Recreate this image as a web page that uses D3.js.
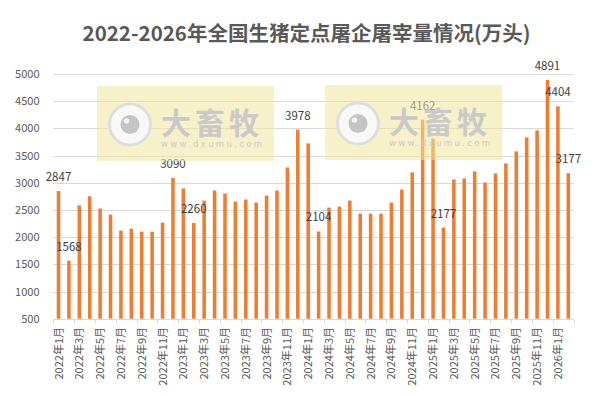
<!DOCTYPE html>
<html>
<head>
<meta charset="utf-8">
<script src="https://cdn.jsdelivr.net/npm/d3@7"></script>
<style>
  html, body { margin: 0; padding: 0; background: #fff; }
  svg { display: block; }
</style>
</head>
<body>
<div id="chart"></div>
<script>
// 数据
var years = [2022, 2023, 2024, 2025, 2026];
var months = [];
years.forEach(function(y) {
    var n = y === 2026 ? 2 : 12;
    for (var m = 1; m <= n; m++) months.push(y + "年" + m + "月");
});
var values = [
    2847, 1568, 2586, 2752, 2525, 2414, 2119, 2156, 2100, 2100, 2266, 3090,
    2894, 2260, 2672, 2857, 2801, 2654, 2691, 2635, 2765, 2857, 3281, 3978,
    3724, 2104, 2543, 2562, 2672, 2432, 2432, 2432, 2635, 2875, 3189, 4162,
    3811, 2177, 3060, 3078, 3208, 3005, 3171, 3355, 3577, 3835, 3964, 4891,
    4404, 3177
];
var labelled = ["2022年1月", "2022年2月", "2022年12月", "2023年2月", "2023年12月",
    "2024年2月", "2024年12月", "2025年2月", "2025年12月", "2026年1月", "2026年2月"];
var yTicks = [500, 1000, 1500, 2000, 2500, 3000, 3500, 4000, 4500, 5000];
var title = "2022-2026年全国生猪定点屠企屠宰量情况(万头)";

var width = 607, height = 396;
var fontCJK = "'Noto Sans CJK SC', 'Noto Sans', sans-serif";

var svg = d3.select("#chart").append("svg")
    .attr("width", width)
    .attr("height", height);

var data = months.map(function(m, i) { return { month: m, value: values[i] }; });

var x = d3.scaleBand()
    .domain(months)
    .range([53.3, 573.5])
    .paddingInner(0.66)
    .paddingOuter(0.33);

var y = d3.scaleLinear()
    .domain([500, 5000])
    .range([318.7, 74]);

// 标题
svg.append("text")
    .attr("x", 306.5)
    .attr("y", 41)
    .attr("text-anchor", "middle")
    .attr("font-family", fontCJK)
    .attr("font-weight", "bold")
    .attr("font-size", "20.5px")
    .attr("fill", "#595959")
    .text(title);

// 网格线
svg.append("g")
    .selectAll("line")
    .data(yTicks)
    .enter()
    .append("line")
    .attr("x1", 53.3)
    .attr("x2", 573.5)
    .attr("y1", function(d) { return Math.round(y(d)) + 0.5; })
    .attr("y2", function(d) { return Math.round(y(d)) + 0.5; })
    .attr("stroke", "#d9d9d9")
    .attr("stroke-width", 1);

// y轴标签
svg.append("g")
    .selectAll("text")
    .data(yTicks)
    .enter()
    .append("text")
    .attr("x", 39.5)
    .attr("y", function(d) { return y(d) + 4; })
    .attr("text-anchor", "end")
    .attr("font-family", fontCJK)
    .attr("font-size", "11px")
    .attr("fill", "#595959")
    .text(function(d) { return d; });

// x轴刻度
var tickPos = d3.range(0, months.length + 1, 2).map(function(i) {
    return i < months.length ? x(months[i]) - x.step() * x.paddingOuter() : 573.5;
});
svg.append("g")
    .selectAll("line")
    .data(tickPos)
    .enter()
    .append("line")
    .attr("x1", function(d) { return Math.round(d) + 0.5; })
    .attr("x2", function(d) { return Math.round(d) + 0.5; })
    .attr("y1", Math.round(y(500)) + 0.5)
    .attr("y2", Math.round(y(500)) + 4.5)
    .attr("stroke", "#d9d9d9");

// x轴标签
svg.append("g")
    .selectAll("text")
    .data(months.filter(function(d, i) { return i % 2 === 0; }))
    .enter()
    .append("text")
    .attr("transform", function(d) {
        return "translate(" + (x(d) + x.bandwidth() / 2 + 4) + "," + 327 + ") rotate(-90)";
    })
    .attr("text-anchor", "end")
    .attr("font-family", fontCJK)
    .attr("font-size", "11px")
    .attr("fill", "#595959")
    .text(function(d) { return d; });

// 柱子
svg.append("g")
    .selectAll("rect")
    .data(data)
    .enter()
    .append("rect")
    .attr("x", function(d) { return x(d.month); })
    .attr("y", function(d) { return y(d.value); })
    .attr("width", x.bandwidth())
    .attr("height", function(d) { return y(500) - y(d.value); })
    .attr("fill", "#ed7d31");

// 数据标签
svg.append("g")
    .selectAll("text")
    .data(data.filter(function(d) { return labelled.indexOf(d.month) >= 0; }))
    .enter()
    .append("text")
    .attr("x", function(d) { return x(d.month) + x.bandwidth() / 2; })
    .attr("y", function(d) { return y(d.value) - 10; })
    .attr("text-anchor", "middle")
    .attr("font-family", fontCJK)
    .attr("font-size", "11.5px")
    .attr("fill", "#404040")
    .text(function(d) { return d.value; });

// 水印
function watermark(x0, y0) {
    var g = svg.append("g")
        .attr("transform", "translate(" + x0 + "," + y0 + ")");
    g.append("rect")
        .attr("width", 177)
        .attr("height", 75)
        .attr("fill", "#f0e59c")
        .attr("opacity", 0.55);
    g.append("circle")
        .attr("cx", 33)
        .attr("cy", 38.5)
        .attr("r", 20.5)
        .attr("fill", "#f8f8f8")
        .attr("stroke", "#dedede")
        .attr("stroke-width", 3);
    g.append("circle")
        .attr("cx", 33)
        .attr("cy", 38.5)
        .attr("r", 9.5)
        .attr("fill", "#c4c4c4");
    g.append("circle")
        .attr("cx", 29.5)
        .attr("cy", 35)
        .attr("r", 2.8)
        .attr("fill", "#f2f2f2");
    g.append("text")
        .attr("x", 64)
        .attr("y", 47.5)
        .attr("font-family", fontCJK)
        .attr("font-weight", "bold")
        .attr("font-size", "30px")
        .attr("fill", "#c9c9c9")
        .attr("textLength", 98)
        .text("大畜牧");
    g.append("text")
        .attr("x", 64)
        .attr("y", 61)
        .attr("font-family", "'DejaVu Sans', sans-serif")
        .attr("font-size", "8.5px")
        .attr("fill", "#c9c9c9")
        .attr("textLength", 101)
        .text("www.dxumu.com");
}
watermark(97, 86);
watermark(325, 85);
</script>
</body>
</html>
